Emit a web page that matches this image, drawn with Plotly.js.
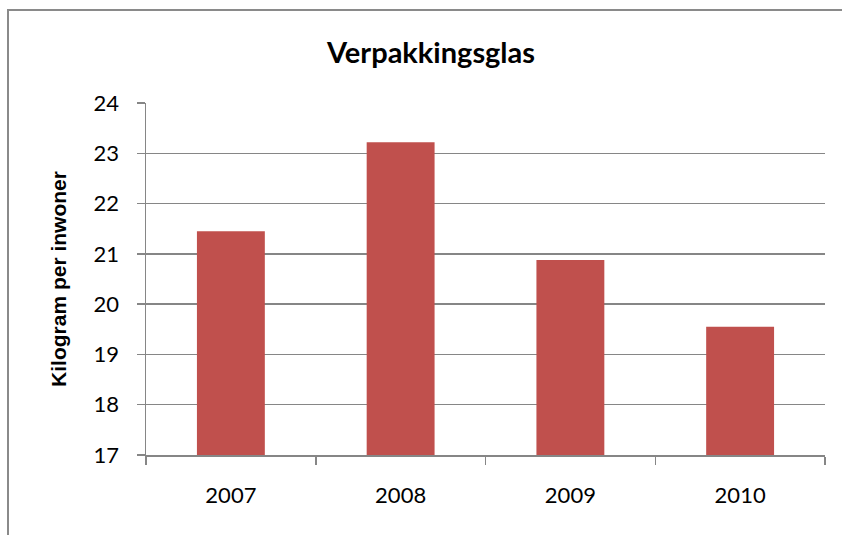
<!DOCTYPE html>
<html>
<head>
<meta charset="utf-8">
<script src="https://cdn.plot.ly/plotly-3.0.1.min.js"></script>
<style>
  html, body { margin: 0; padding: 0; background: #ffffff; overflow: hidden; }
  #frame { position: absolute; left: 7px; top: 9px; width: 900px; height: 600px;
           border-left: 2px solid #8a8a8a; border-top: 2px solid #8a8a8a; }
  #chart { position: absolute; left: 0; top: 0; width: 842px; height: 535px; }
</style>
</head>
<body>
<div id="frame"></div>
<div id="chart"></div>
<script>
const years = ['2007', '2008', '2009', '2010'];
const kgPerInwoner = [21.45, 23.22, 20.88, 19.55];
const yTicks = [17, 18, 19, 20, 21, 22, 23, 24];

const trace = {
  type: 'bar',
  x: years,
  y: kgPerInwoner,
  base: 0,
  marker: { color: '#C0504D', line: { width: 0 } },
  hoverinfo: 'x+y'
};

const layout = {
  width: 842,
  height: 535,
  paper_bgcolor: 'rgba(0,0,0,0)',
  plot_bgcolor: 'rgba(0,0,0,0)',
  margin: { l: 146, r: 17, t: 103, b: 80 },
  showlegend: false,
  bargap: 0.6,
  title: {
    text: 'Verpakkingsglas',
    font: { family: 'Lato, sans-serif', size: 29, color: '#000000', weight: 'bold' },
    x: 431 / 842, xref: 'container', xanchor: 'center',
    y: 1 - 53 / 535, yref: 'container', yanchor: 'middle'
  },
  xaxis: {
    type: 'category',
    tickson: 'boundaries',
    ticks: 'outside',
    ticklen: 8,
    tickcolor: '#868686',
    tickwidth: 1.5,
    showline: true,
    linecolor: '#868686',
    linewidth: 1.5,
    showgrid: false,
    tickfont: { family: 'Lato, sans-serif', size: 22, color: '#000000' },
    ticklabelstandoff: 20,
    automargin: false
  },
  yaxis: {
    range: [17, 24],
    tickvals: yTicks,
    ticktext: yTicks.map(String),
    ticks: 'outside',
    ticklen: 8,
    tickcolor: '#868686',
    tickwidth: 1.5,
    showline: true,
    linecolor: '#868686',
    linewidth: 1.5,
    showgrid: true,
    gridcolor: '#868686',
    gridwidth: 1.5,
    zeroline: false,
    tickfont: { family: 'Lato, sans-serif', size: 22, color: '#000000' },
    ticklabelstandoff: 13,
    automargin: false,
    title: {
      text: 'Kilogram per inwoner',
      font: { family: 'Liberation Sans, Arial, sans-serif', size: 21, color: '#000000', weight: 'bold' },
      standoff: 21
    }
  }
};

Plotly.newPlot('chart', [trace], layout, { displayModeBar: false, staticPlot: true });
</script>
</body>
</html>
